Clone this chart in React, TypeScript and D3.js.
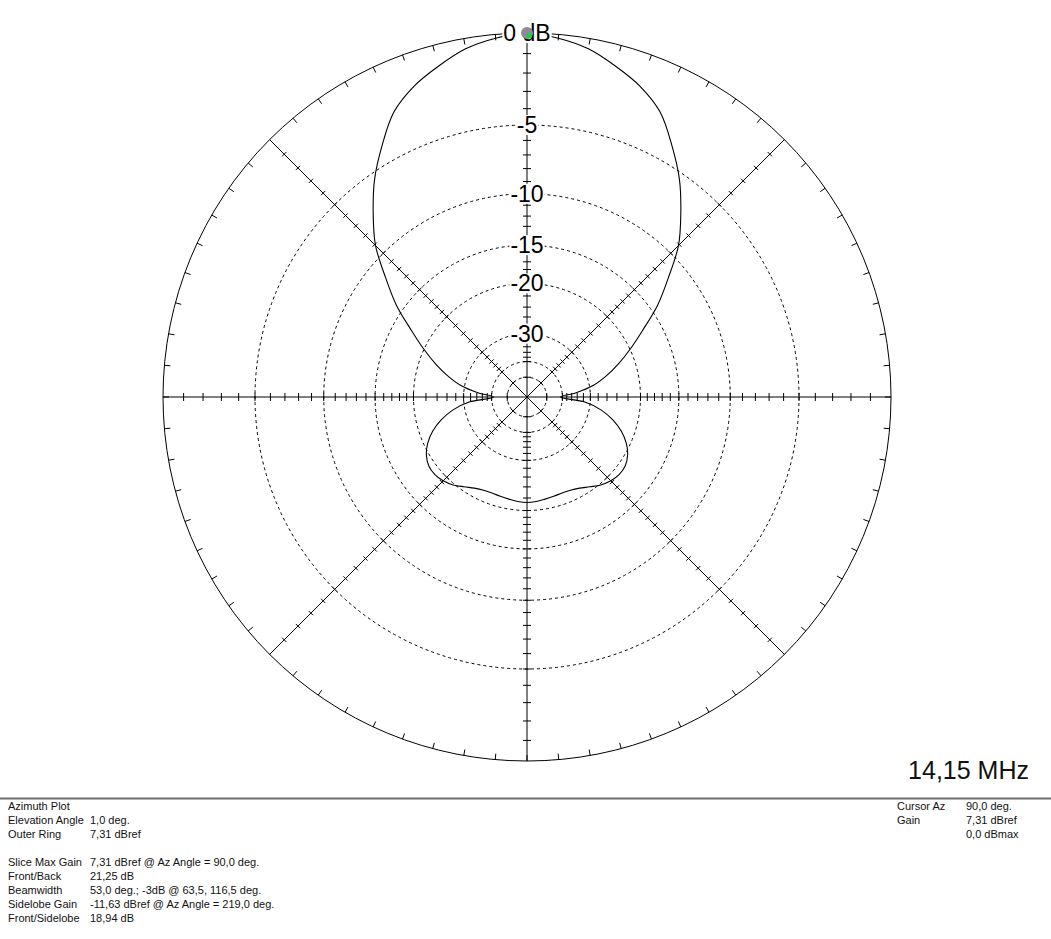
import React from "react";
import * as d3 from "d3";

// ---- data ----
const azimuths: number[] = [
  0, 5, 10, 15, 20, 25, 30, 35, 40, 45, 50, 55, 60, 65, 70, 75, 80, 85,
  90, 95, 100, 105, 110, 115, 120, 125, 130, 135, 140, 145, 150, 155, 160, 165, 170, 175,
  180, 185, 190, 195, 200, 205, 210, 215, 220, 225, 230, 235, 240, 245, 250, 255, 260, 265,
  270, 275, 280, 285, 290, 295, 300, 305, 310, 315, 320, 325, 330, 335, 340, 345, 350, 355,
];
const gainDb: number[] = [
  -41, -34.3, -28.9, -25.5, -22.6, -19.9, -17.2, -14.2, -11.7, -9.1, -7.2, -5.4, -3.9, -2.5, -1.65, -1.05, -0.5, -0.18,
  0, -0.18, -0.5, -1.05, -1.65, -2.5, -3.9, -5.4, -7.2, -9.1, -11.7, -14.2, -17.2, -19.9, -22.6, -25.5, -28.9, -34.3,
  -41, -31.5, -27.0, -24.2, -22.1, -20.6, -19.6, -19.05, -18.97, -19.25, -19.8, -20.6, -21.3, -21.7, -21.8, -21.7, -21.55, -21.35,
  -21.25, -21.35, -21.55, -21.7, -21.8, -21.7, -21.3, -20.6, -19.8, -19.25, -18.97, -19.05, -19.6, -20.6, -22.1, -24.2, -27.0, -31.5,
];
const ringDb: number[] = [-5, -10, -15, -20, -30, -40, -50];
const ringLabelDb: number[] = [0, -5, -10, -15, -20, -30];
const ringLabels: string[] = ["0 dB", "-5", "-10", "-15", "-20", "-30"];
const axisTickDb: number[] = [
  -1, -2, -3, -4, -5, -6, -7, -8, -9, -10, -11, -12, -13, -14, -15, -16, -17, -18, -19, -20,
  -22, -24, -26, -28, -30, -32, -34, -36, -38, -40, -50,
];
const axisAngles: number[] = [0, 45, 90, 135, 180, 225, 270, 315];
const frequencyLabel = "14,15 MHz";
const infoLeftLabels: string[] = [
  "Azimuth Plot", "Elevation Angle", "Outer Ring", "",
  "Slice Max Gain", "Front/Back", "Beamwidth", "Sidelobe Gain", "Front/Sidelobe",
];
const infoLeftValues: string[] = [
  "", "1,0 deg.", "7,31 dBref", "",
  "7,31 dBref @ Az Angle = 90,0 deg.", "21,25 dB", "53,0 deg.; -3dB @ 63,5, 116,5 deg.",
  "-11,63 dBref @ Az Angle = 219,0 deg.", "18,94 dB",
];
const infoRightLabels: string[] = ["Cursor Az", "Gain", ""];
const infoRightValues: string[] = ["90,0 deg.", "7,31 dBref", "0,0 dBmax"];

// ---- layout ----
const W = 1051;
const H = 939;
const cx = 527;
const cy = 397;
const R = 364;
const FONT = "'Liberation Sans', Arial, sans-serif";

// ARRL log scale: r = R * 0.89^(-dB/2)  -> log(r) linear in dB
const rScale = d3.scaleLog().domain([R * Math.pow(0.89, 25), R]).range([-50, 0]);
const radius = (db: number) => rScale.invert(db);
const angScale = d3.scaleLinear().domain([0, 360]).range([Math.PI / 2, Math.PI / 2 - 2 * Math.PI]);
const toRad = (deg: number) => (deg * Math.PI) / 180;

const pt = (az: number, r: number) => [cx + r * Math.cos(toRad(az)), cy - r * Math.sin(toRad(az))];

export default function App() {
  const data = azimuths.map((a, i) => ({ a, g: gainDb[i] }));
  const line = d3
    .lineRadial<{ a: number; g: number }>()
    .angle((d) => angScale(d.a))
    .radius((d) => radius(d.g))
    .curve(d3.curveCatmullRomClosed.alpha(0.5));
  const patternPath = line(data) || "";

  const outerTicks = d3.range(0, 360, 5);

  const charW = (s: string) => {
    let w = 0;
    for (const c of s) {
      if (c === "-") w += 7.7;
      else if (c === " ") w += 6.4;
      else if (c === "B") w += 15.3;
      else w += 12.8;
    }
    return w;
  };

  const lineH = 14;
  const infoTop = 810;

  return (
    <div style={{ position: "fixed", left: 0, top: 0, width: W, height: H, background: "#fff" }}>
      <svg width={W} height={H} style={{ display: "block" }}>
        <rect x={0} y={0} width={W} height={H} fill="#fff" />
        {/* dashed rings */}
        {ringDb.map((db) => (
          <circle key={db} cx={cx} cy={cy} r={radius(db)} fill="none" stroke="#000" strokeWidth={1} strokeDasharray="3,3" />
        ))}
        {/* outer ring */}
        <circle cx={cx} cy={cy} r={R} fill="none" stroke="#000" strokeWidth={1} />
        {/* outer ring ticks */}
        {outerTicks.map((a) => {
          const [x1, y1] = pt(a, R);
          const [x2, y2] = pt(a, R - 6);
          return <line key={a} x1={x1} y1={y1} x2={x2} y2={y2} stroke="#000" strokeWidth={1} />;
        })}
        {/* axes */}
        {axisAngles.map((a) => {
          const [x2, y2] = pt(a, R);
          return <line key={a} x1={cx} y1={cy} x2={x2} y2={y2} stroke="#000" strokeWidth={1} />;
        })}
        {/* axis ticks */}
        {axisAngles.map((a) =>
          axisTickDb.map((db) => {
            const r = radius(db);
            const [x, y] = pt(a, r);
            const half = a % 90 === 0 ? 4 : 3;
            const px = Math.cos(toRad(a + 90)) * half;
            const py = -Math.sin(toRad(a + 90)) * half;
            return (
              <line key={a + "_" + db} x1={x - px} y1={y - py} x2={x + px} y2={y + py} stroke="#000" strokeWidth={1} />
            );
          })
        )}
        {/* pattern */}
        <path d={patternPath} transform={`translate(${cx},${cy})`} fill="none" stroke="#000" strokeWidth={1.1} />
        {/* ring labels */}
        {ringLabelDb.map((db, i) => {
          const y = cy - radius(db);
          const w = charW(ringLabels[i]);
          return (
            <g key={db}>
              <rect x={cx - w / 2 - 1} y={y - 10} width={w + 2} height={20} fill="#fff" />
              <text x={cx} y={y + 8} textAnchor="middle" fontFamily={FONT} fontSize={23} fill="#000">
                {ringLabels[i]}
              </text>
            </g>
          );
        })}
        {/* cursor marker */}
        <circle cx={cx} cy={cy - R} r={6} fill="#8c8c8c" />
        <circle cx={cx + 1} cy={cy - R + 1} r={3.6} fill="#b070c0" />
        <circle cx={cx + 2} cy={cy - R + 2.5} r={3} fill="#22cc44" />
        {/* frequency */}
        <text x={1029} y={779} textAnchor="end" fontFamily={FONT} fontSize={25} fill="#111">
          {frequencyLabel}
        </text>
        {/* separator */}
        <line x1={0} y1={798.5} x2={W} y2={798.5} stroke="#6e6e6e" strokeWidth={2} />
        {/* info */}
        {infoLeftLabels.map((s, i) => (
          <g key={"l" + i}>
            <text x={8} y={infoTop + i * lineH} fontFamily={FONT} fontSize={11} fill="#111">{s}</text>
            <text x={90} y={infoTop + i * lineH} fontFamily={FONT} fontSize={11} fill="#111">{infoLeftValues[i]}</text>
          </g>
        ))}
        {infoRightLabels.map((s, i) => (
          <g key={"r" + i}>
            <text x={897} y={infoTop + i * lineH} fontFamily={FONT} fontSize={11} fill="#111">{s}</text>
            <text x={966} y={infoTop + i * lineH} fontFamily={FONT} fontSize={11} fill="#111">{infoRightValues[i]}</text>
          </g>
        ))}
      </svg>
    </div>
  );
}
